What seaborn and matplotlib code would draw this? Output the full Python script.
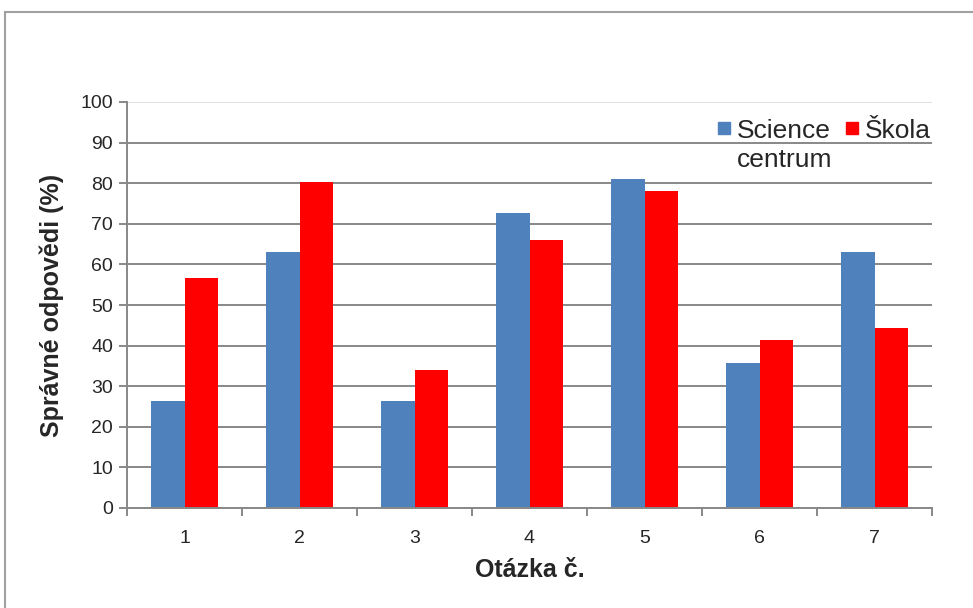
import matplotlib
matplotlib.use("Agg")
import matplotlib.pyplot as plt
import seaborn as sns
import pandas as pd
from matplotlib.patches import Rectangle
from matplotlib.lines import Line2D
from matplotlib.ticker import FixedLocator, NullFormatter

questions = ["1", "2", "3", "4", "5", "6", "7"]
science = [26.4, 63.0, 26.4, 72.6, 81.0, 35.8, 63.0]
skola = [56.7, 80.3, 34.0, 66.0, 78.2, 41.5, 44.3]
series_names = ["Science centrum", "Škola"]
colors = ["#4F81BD", "#FF0000"]

df = pd.DataFrame({
    "q": questions * 2,
    "val": science + skola,
    "series": [series_names[0]] * 7 + [series_names[1]] * 7,
})

sns.set_style("white")
plt.rcParams["font.family"] = ["Liberation Sans", "DejaVu Sans"]

fig = plt.figure(figsize=(9.73, 6.08), dpi=100)
ax = fig.add_axes([127 / 973, 1 - 508 / 608, (932 - 127) / 973, (508 - 102) / 608])

sns.barplot(data=df, x="q", y="val", hue="series", palette=colors,
            width=0.575, saturation=1, ax=ax, legend=False, gap=0,
            linewidth=0, edgecolor="none")

ax.set_ylim(0, 100)
ax.set_xlim(-0.5, 6.5)
ax.set_yticks(range(0, 101, 10))
ax.yaxis.grid(True, color="#888888", linewidth=1.4)
ax.set_axisbelow(True)
ax.get_ygridlines()[-1].set_color("#e0e0e0")
for s in ["top", "right"]:
    ax.spines[s].set_visible(False)
for s in ["left", "bottom"]:
    ax.spines[s].set_color("#888888")
    ax.spines[s].set_linewidth(1.4)

ax.tick_params(axis="y", which="major", length=6, color="#888888", width=1.4,
               labelsize=14, direction="out", left=True, pad=4)
ax.tick_params(axis="x", which="major", length=0, labelsize=14, pad=16)
ax.xaxis.set_minor_locator(FixedLocator([i - 0.5 for i in range(8)]))
ax.xaxis.set_minor_formatter(NullFormatter())
ax.tick_params(axis="x", which="minor", length=6, color="#888888", width=1.4,
               direction="out", bottom=True)

ax.set_xlabel("Otázka č.", fontsize=18, fontweight="bold", labelpad=8)
ax.set_ylabel("Správné odpovědi (%)", fontsize=18, fontweight="bold", labelpad=12)

legend_labels = [series_names[0].split(" ")[0], series_names[1]]
handles = [Line2D([], [], marker="s", linestyle="none", markersize=9,
                  markerfacecolor=c, markeredgecolor=c) for c in colors]
leg = ax.legend(handles, legend_labels, ncol=2, loc="upper right",
                bbox_to_anchor=(1.012, 0.985), frameon=False, fontsize=19,
                handletextpad=0.2, columnspacing=0.5, handlelength=0.6,
                borderaxespad=0.0)

fig.canvas.draw()
bb = leg.get_texts()[0].get_window_extent()
x0, y0 = fig.transFigure.inverted().transform((bb.x0, bb.y0))
fig.text(x0, y0 - 0.008, series_names[0].split(" ")[1], fontsize=19,
         ha="left", va="top", color="#262626")

fig.patches.append(Rectangle((5 / 973, -0.05), 1.2, 1 - 12 / 608 + 0.05,
                             transform=fig.transFigure, fill=False,
                             edgecolor="#a0a0a0", linewidth=1.5))

fig.savefig("out.png", dpi=100)
